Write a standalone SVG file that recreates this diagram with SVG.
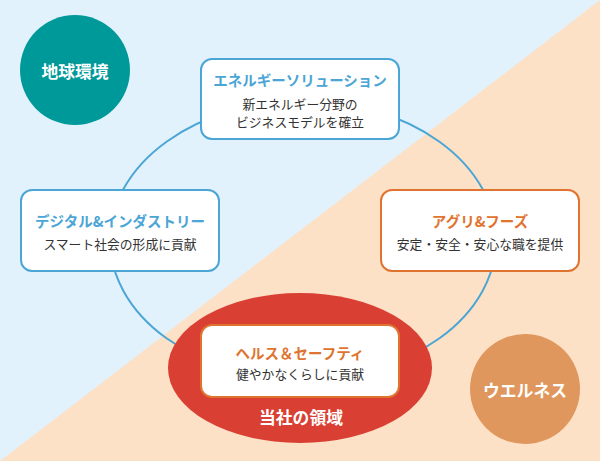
<svg xmlns="http://www.w3.org/2000/svg" width="600" height="461" viewBox="0 0 600 461">
<style>
.box{fill:#fff;stroke-width:2}
.b{stroke:#4BA5D5}
.o{stroke:#DF7430}
.t{font-family:"Noto Sans CJK JP","Noto Sans",sans-serif;text-anchor:middle;dominant-baseline:central}
.ttl{font-size:14.5px;font-weight:bold}
.tb{fill:#4BA5D5}
.to{fill:#DF7430}
.sub{font-size:12.8px;fill:#333}
.w{fill:#fff;font-weight:bold;font-size:16.8px}
</style>
<rect x="0" y="0" width="600" height="461" fill="#E1F2FC"/>
<polygon points="600,0 600,461 0,461" fill="#FDE1C7"/>
<g id="connectors">
<ellipse cx="303" cy="240" rx="193" ry="139" fill="none" stroke="#4BA5D5" stroke-width="2"/>
</g>
<g id="chikyu">
<circle cx="75" cy="70" r="55" fill="#00999A"/>
<text class="t w" x="75" y="71">地球環境</text>
</g>
<g id="wellness">
<circle cx="525" cy="389" r="55" fill="#E0975D"/>
<text class="t w" x="525" y="390">ウエルネス</text>
</g>
<g id="energy">
<rect class="box b" x="201" y="59" width="198" height="80" rx="11"/>
<text class="t ttl tb" x="300" y="79.5">エネルギーソリューション</text>
<text class="t sub" x="300" y="103">新エネルギー分野の</text>
<text class="t sub" x="300" y="121">ビジネスモデルを確立</text>
</g>
<g id="digital">
<rect class="box b" x="21" y="190" width="198" height="81" rx="11"/>
<text class="t ttl tb" x="120" y="220">デジタル&amp;インダストリー</text>
<text class="t sub" x="120" y="243">スマート社会の形成に貢献</text>
</g>
<g id="agri">
<rect class="box o" x="381" y="190" width="198" height="81" rx="11"/>
<text class="t ttl to" x="480" y="220">アグリ&amp;フーズ</text>
<text class="t sub" x="480" y="243">安定・安全・安心な職を提供</text>
</g>
<g id="domain">
<ellipse cx="300" cy="368" rx="132" ry="75" fill="#D93F33"/>
<rect class="box o" x="201" y="325" width="198" height="72" rx="11"/>
<text class="t ttl to" x="300" y="352">ヘルス＆セーフティ</text>
<text class="t sub" x="300" y="373">健やかなくらしに貢献</text>
<text class="t w" x="301" y="417" font-size="16.5">当社の領域</text>
</g>
</svg>
